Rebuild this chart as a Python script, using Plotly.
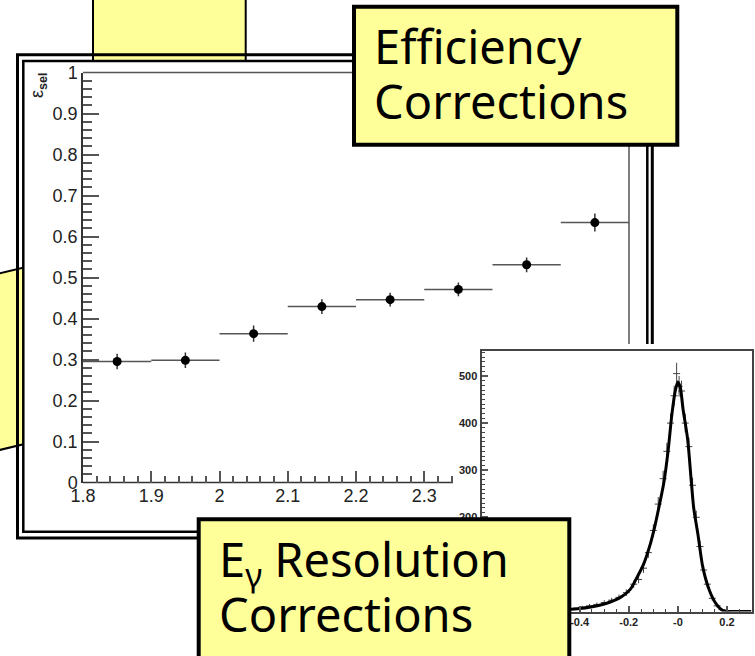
import numpy as np
import plotly.graph_objects as go

W, H = 755, 656

# ---- selection efficiency per photon-energy bin ----
e_center = [1.85, 1.95, 2.05, 2.15, 2.25, 2.35, 2.45, 2.55]
e_halfwidth = [0.05, 0.05, 0.05, 0.05, 0.05, 0.05, 0.05, 0.05]
eff = [0.295, 0.298, 0.363, 0.429, 0.446, 0.471, 0.531, 0.634]
eff_err = [0.019, 0.019, 0.020, 0.018, 0.017, 0.017, 0.018, 0.022]

x_tickvals = [1.8, 1.9, 2.0, 2.1, 2.2, 2.3]
x_ticktext = ["1.8", "1.9", "2", "2.1", "2.2", "2.3"]
y_tickvals = [0, 0.1, 0.2, 0.3, 0.4, 0.5, 0.6, 0.7, 0.8, 0.9, 1.0]
y_ticktext = ["0", "0.1", "0.2", "0.3", "0.4", "0.5", "0.6", "0.7", "0.8", "0.9", "1"]

# ---- energy resolution inset: binned counts and fitted line shape ----
res_x = [-0.42, -0.39, -0.36, -0.33, -0.30, -0.27, -0.24, -0.21, -0.18, -0.16,
         -0.14, -0.12, -0.10, -0.08, -0.06, -0.045, -0.03, -0.015, -0.005, 0.005,
         0.015, 0.03, 0.045, 0.06, 0.075, 0.09, 0.105, 0.12, 0.14, 0.16, 0.18, 0.20]
res_counts = [6, 9, 12, 15, 19, 24, 30, 40, 58, 68,
              92, 125, 172, 228, 282, 340, 400, 458, 505, 478,
              468, 400, 350, 268, 200, 138, 88, 58, 28, 12, 4, 1]
res_err = [3, 3, 4, 4, 5, 5, 6, 7, 8, 8,
           10, 11, 13, 15, 17, 18, 20, 21, 23, 22,
           22, 20, 19, 16, 14, 12, 9, 8, 5, 4, 2, 1]

fit_x = [-0.80, -0.70, -0.60, -0.50, -0.41, -0.30, -0.234, -0.194, -0.167, -0.140,
         -0.113, -0.093, -0.073, -0.057, -0.040, -0.024, -0.010, 0.0, 0.010, 0.021,
         0.040, 0.055, 0.065, 0.082, 0.102, 0.129, 0.156, 0.183, 0.21, 0.25, 0.30]
fit_y = [0.5, 1, 2, 3.5, 5.6, 16, 30, 47, 72, 100,
         142, 183, 232, 274, 340, 420, 470, 487, 475, 430,
         365, 274, 218, 163, 93, 44, 16, 2, 0, 0, 0]

inset_xtickvals = [-0.8, -0.6, -0.4, -0.2, 0.0, 0.2]
inset_xticktext = ["-0.8", "-0.6", "-0.4", "-0.2", "-0", "0.2"]
inset_ytickvals = [0, 100, 200, 300, 400, 500]
inset_yticktext = ["0", "100", "200", "300", "400", "500"]

YELLOW = "#FFFF99"
TEXT_FONT = "Comic Sans MS, Noto Sans, sans-serif"
AXIS_FONT = "Liberation Sans, Arial, sans-serif"


def px(x):
    return x / W


def py(y):
    return 1 - y / H


def path(points, close=False):
    s = "M " + " L ".join(f"{px(a):.5f},{py(b):.5f}" for a, b in points)
    return s + (" Z" if close else "")


fig = go.Figure()

fig.add_trace(go.Scatter(
    x=e_center, y=eff, mode="markers", xaxis="x", yaxis="y",
    marker=dict(color="black", size=9),
    error_x=dict(type="data", array=e_halfwidth, width=0, thickness=1.5, color="#555"),
    error_y=dict(type="data", array=eff_err, width=0, thickness=1.5, color="#333"),
    cliponaxis=False, showlegend=False, hoverinfo="x+y",
))

fig.add_trace(go.Scatter(
    x=res_x, y=res_counts, mode="markers", xaxis="x2", yaxis="y2",
    marker=dict(symbol="line-ew-open", size=5, color="#444", line=dict(width=1, color="#444")),
    error_y=dict(type="data", array=res_err, width=0, thickness=1, color="#444"),
    showlegend=False,
))
fig.add_trace(go.Scatter(
    x=fit_x, y=fit_y, mode="lines", xaxis="x2", yaxis="y2",
    line=dict(color="black", width=3, shape="spline", smoothing=0.8),
    showlegend=False,
))

minor_x = [v for v in np.round(np.arange(1.80, 2.3401, 0.02), 2) if round(v * 10, 6) % 1 != 0]

tick_common = dict(showgrid=False, zeroline=False, ticks="inside", tickcolor="#555",
                   tickwidth=1.5, automargin=False)

shapes = [
    # yellow cards sitting behind the chart canvas
    dict(type="rect", xref="paper", yref="paper", layer="below",
         x0=px(93), x1=px(245.7), y0=py(-10), y1=py(62),
         fillcolor=YELLOW, line=dict(color="black", width=2)),
    dict(type="path", xref="paper", yref="paper", layer="below",
         path=path([(-30, 280.5), (100, 249.3), (100, 426), (-30, 457)], close=True),
         fillcolor=YELLOW, line=dict(color="black", width=2)),
    # canvas
    dict(type="rect", xref="paper", yref="paper", layer="below",
         x0=px(23.3), x1=px(647.3), y0=py(531.7), y1=py(61),
         fillcolor="white", line=dict(width=0)),
    dict(type="path", xref="paper", yref="paper", layer="below",
         path=path([(647.3, 344), (647.3, 61), (23.3, 61), (23.3, 531.7), (210, 531.7)]),
         line=dict(color="black", width=2.5)),
    dict(type="path", xref="paper", yref="paper", layer="below",
         path=path([(652.3, 344), (652.3, 54.7), (17.5, 54.7), (17.5, 538), (210, 538)]),
         line=dict(color="black", width=3)),
    # frame of the efficiency plot
    dict(type="path", xref="paper", yref="paper", layer="below",
         path=path([(83, 72.5), (629, 72.5), (629, 344)]),
         line=dict(color="#555", width=1.5)),
    dict(type="line", xref="paper", yref="paper", layer="below",
         x0=px(83), x1=px(453), y0=py(482.5), y1=py(482.5),
         line=dict(color="#333", width=1.5)),
    # label cards on top
    dict(type="rect", xref="paper", yref="paper", layer="above",
         x0=px(354), x1=px(677.3), y0=py(144.7), y1=py(6.7),
         fillcolor=YELLOW, line=dict(color="black", width=4)),
    dict(type="rect", xref="paper", yref="paper", layer="above",
         x0=px(198.7), x1=px(569.3), y0=py(690), y1=py(519.3),
         fillcolor=YELLOW, line=dict(color="black", width=4)),
]

card_font = dict(family=TEXT_FONT, size=47, color="black")
annotations = [
    dict(text="Efficiency", x=px(373), y=py(13), xref="paper", yref="paper",
         xanchor="left", yanchor="top", showarrow=False, font=card_font, borderpad=0),
    dict(text="Corrections", x=px(373), y=py(68), xref="paper", yref="paper",
         xanchor="left", yanchor="top", showarrow=False, font=card_font, borderpad=0),
    dict(text="E<sub>γ</sub> Resolution", x=px(218), y=py(526), xref="paper", yref="paper",
         xanchor="left", yanchor="top", showarrow=False, font=card_font, borderpad=0),
    dict(text="Corrections", x=px(218), y=py(581), xref="paper", yref="paper",
         xanchor="left", yanchor="top", showarrow=False, font=card_font, borderpad=0),
    dict(text="ε<sub><b>sel</b></sub>", x=px(38), y=py(71), xref="paper", yref="paper",
         xanchor="center", yanchor="top", textangle=-90, showarrow=False,
         font=dict(family=AXIS_FONT, size=18, color="#222"), borderpad=0),
]

fig.update_layout(
    template="none",
    width=W, height=H, autosize=False,
    margin=dict(l=0, r=0, t=0, b=0, pad=0),
    paper_bgcolor="white", plot_bgcolor="white",
    showlegend=False,
    shapes=shapes,
    annotations=annotations,
    xaxis=dict(
        domain=[px(83), px(629)], range=[1.8, 2.6], anchor="y",
        showline=False, tickmode="array", tickvals=x_tickvals, ticktext=x_ticktext,
        ticklen=12, tickfont=dict(family=AXIS_FONT, size=18, color="#222"),
        ticklabelstandoff=0,
        minor=dict(tickmode="array", tickvals=minor_x, ticks="inside", ticklen=7,
                   tickwidth=1.5, tickcolor="#555"),
        **tick_common,
    ),
    yaxis=dict(
        domain=[py(482.5), py(72.5)], range=[0, 1], anchor="x",
        showline=True, linecolor="#333", linewidth=1.5,
        tickmode="array", tickvals=y_tickvals, ticktext=y_ticktext,
        ticklen=16, tickfont=dict(family=AXIS_FONT, size=18, color="#222"),
        ticklabelstandoff=0,
        minor=dict(dtick=0.02, ticks="inside", ticklen=9, tickwidth=1.5, tickcolor="#555"),
        **tick_common,
    ),
    xaxis2=dict(
        domain=[px(481.5), px(751.5)], range=[-0.8, 0.3], anchor="y2",
        showline=True, mirror=True, linecolor="#444", linewidth=1.5,
        tickmode="array", tickvals=inset_xtickvals, ticktext=inset_xticktext,
        ticklen=6, tickfont=dict(family=AXIS_FONT, size=11, color="#222", weight="bold"),
        minor=dict(dtick=0.05, ticks="inside", ticklen=3, tickwidth=1.2, tickcolor="#444"),
        **tick_common,
    ),
    yaxis2=dict(
        domain=[py(611.5), py(351)], range=[0, 553], anchor="x2",
        showline=True, mirror=True, linecolor="#444", linewidth=2,
        tickmode="array", tickvals=inset_ytickvals, ticktext=inset_yticktext,
        ticklen=6, tickfont=dict(family=AXIS_FONT, size=11, color="#222", weight="bold"),
        minor=dict(dtick=10, ticks="inside", ticklen=3, tickwidth=1.2, tickcolor="#444"),
        **tick_common,
    ),
)

fig.write_html("out.html")
